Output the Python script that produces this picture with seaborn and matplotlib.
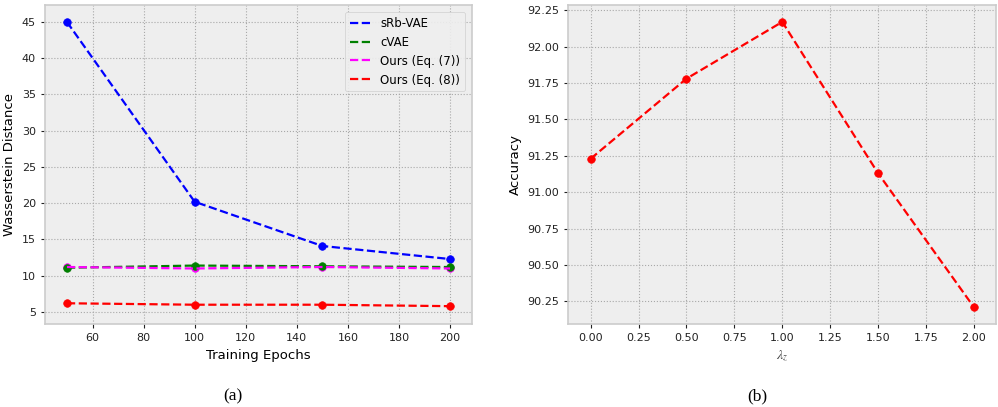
import pandas as pd
import seaborn as sns
import matplotlib.pyplot as plt
import numpy as np

# data
epochs = [50, 100, 150, 200]
srb_vae = [45.0, 20.2, 14.1, 12.3]
cvae = [11.1, 11.4, 11.3, 11.2]
ours_eq7 = [11.2, 11.0, 11.2, 11.0]
ours_eq8 = [6.2, 6.0, 6.0, 5.8]

lambdas = [0.0, 0.5, 1.0, 1.5, 2.0]
accuracy = [91.23, 91.78, 92.17, 91.13, 90.21]

plt.style.use('bmh')
plt.rcParams['mathtext.fontset'] = 'stix'
plt.rcParams['axes.grid'] = True
plt.rcParams['grid.linestyle'] = ':'
plt.rcParams['grid.color'] = '#a8a8a8'
plt.rcParams['grid.linewidth'] = 0.8

fig = plt.figure(figsize=(9.98, 4.07), dpi=100)
ax1 = fig.add_axes([45 / 998, 83 / 407, 427 / 998, 319 / 407])
ax2 = fig.add_axes([568 / 998, 83 / 407, 428 / 998, 319 / 407])

# (a) Wasserstein distance vs. epochs
series = [('sRb-VAE', srb_vae, 'blue'),
          ('cVAE', cvae, 'green'),
          ('Ours (Eq. (7))', ours_eq7, 'magenta'),
          ('Ours (Eq. (8))', ours_eq8, 'red')]
# markers: green drawn on top of magenta like the original
for idx in [0, 2, 1, 3]:
    name, vals, col = series[idx]
    sns.scatterplot(x=epochs, y=vals, ax=ax1, color=col, s=30,
                    edgecolor=col, linewidth=0.5, zorder=2)
for name, vals, col in series:
    sns.lineplot(x=epochs, y=vals, ax=ax1, color=col, linestyle='--',
                 linewidth=1.6, label=name, zorder=3)

ax1.set_xlim(41.4, 208.6)
ax1.set_ylim(3.34, 47.34)
ax1.set_xlabel('Training Epochs', fontsize=9.5)
ax1.set_ylabel('Wasserstein Distance', fontsize=9.5)
ax1.set_xticks([60, 80, 100, 120, 140, 160, 180, 200])
ax1.set_yticks([5, 10, 15, 20, 25, 30, 35, 40, 45])
ax1.tick_params(labelsize=8, direction='out', length=3, colors='#222222')
ax1.legend(loc='upper right', fontsize=8.5, frameon=True, facecolor='#eeeeee',
           edgecolor='#cccccc', framealpha=0.9, handlelength=1.8,
           borderaxespad=0.6)

# (b) accuracy vs lambda_z
sns.scatterplot(x=lambdas, y=accuracy, ax=ax2, color='red', s=30,
                edgecolor='red', linewidth=0.5, zorder=2)
sns.lineplot(x=lambdas, y=accuracy, ax=ax2, color='red', linestyle='--',
             linewidth=1.6, zorder=3)
ax2.set_xlim(-0.118, 2.115)
ax2.set_ylim(90.095, 92.286)
ax2.set_xlabel(r'$\lambda_z$', fontsize=10, color='#444444')
ax2.set_ylabel('Accuracy', fontsize=9.5)
ax2.set_xticks(np.arange(0, 2.01, 0.25))
ax2.set_yticks(np.arange(90.25, 92.26, 0.25))
ax2.set_xticklabels(['%.2f' % v for v in np.arange(0, 2.01, 0.25)])
ax2.set_yticklabels(['%.2f' % v for v in np.arange(90.25, 92.26, 0.25)])
ax2.tick_params(labelsize=8, direction='out', length=3, colors='#222222')

for ax in (ax1, ax2):
    for sp in ax.spines.values():
        sp.set_color('#cccccc')
        sp.set_linewidth(1.2)

fig.text(233 / 998, 1 - 396 / 407, '(a)', ha='center', va='center',
         fontsize=12.5, family='Liberation Serif')
fig.text(757 / 998, 1 - 396 / 407, '(b)', ha='center', va='center',
         fontsize=12.5, family='Liberation Serif')

fig.savefig('out.png', dpi=100, facecolor='white')
